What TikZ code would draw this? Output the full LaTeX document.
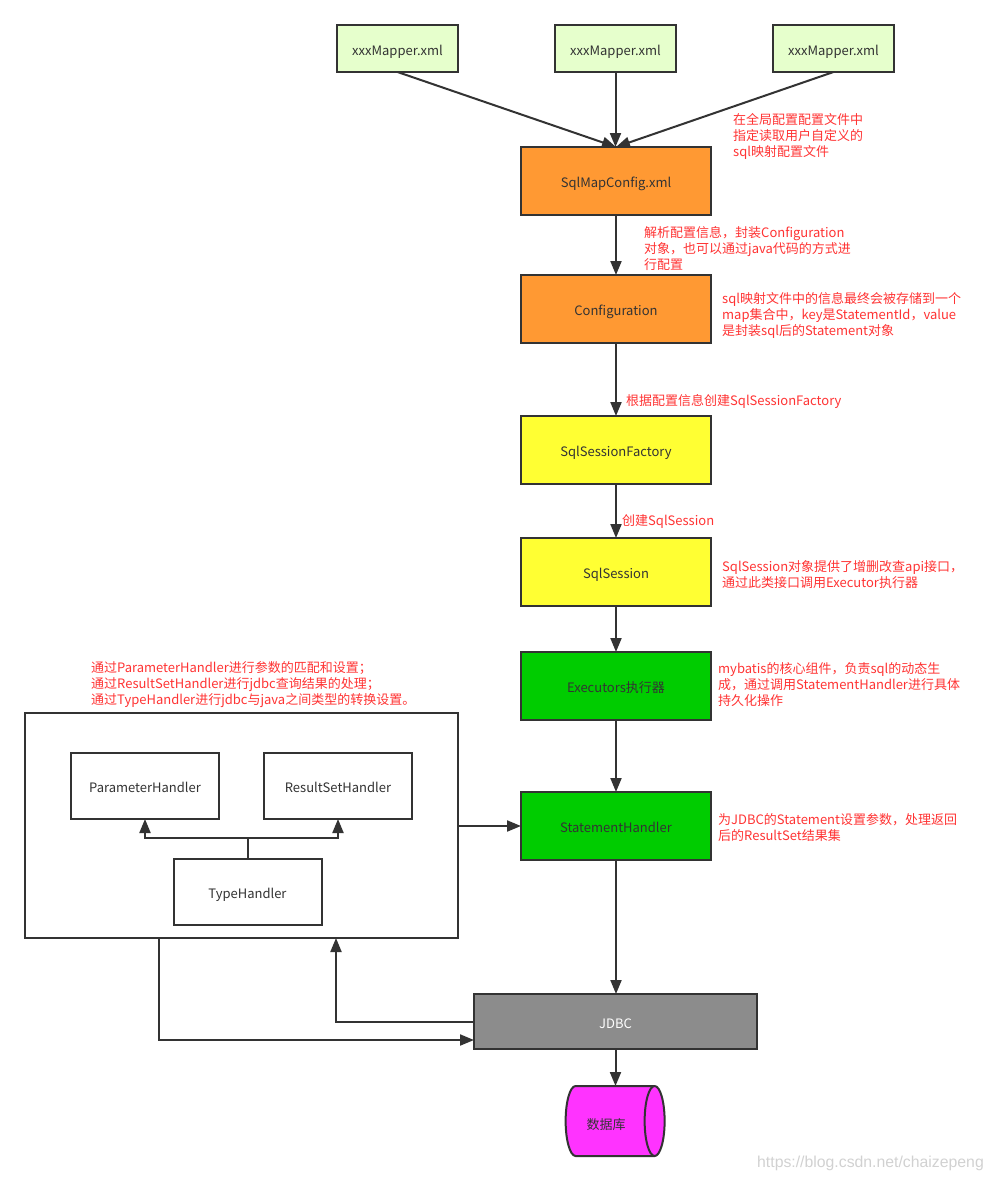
\documentclass[tikz,border=0pt]{standalone}
\usepackage{fontspec}
\setmainfont{Noto Sans CJK SC}
\newfontfamily\markfont{Liberation Sans}
\usetikzlibrary{shapes.geometric, arrows.meta, positioning}
\definecolor{mapgreen}{RGB}{230, 255, 204}
\definecolor{cfgorange}{RGB}{255, 153, 51}
\definecolor{sessyellow}{RGB}{255, 255, 51}
\definecolor{execgreen}{RGB}{0, 204, 0}
\definecolor{jdbcgray}{RGB}{140, 140, 140}
\definecolor{dbpink}{RGB}{255, 51, 255}
\definecolor{inkgray}{RGB}{51, 51, 51}
\definecolor{notered}{RGB}{255, 51, 51}
\tikzset{
    box/.style={draw=inkgray, line width=2pt, outer sep=0pt, text=inkgray, text height=13.5pt, text depth=0.5pt, minimum width=190pt, minimum height=68pt, font=\fontsize{13}{16}\selectfont},
    mapperbox/.style={box, fill=mapgreen, minimum width=121pt, minimum height=47pt},
    handlerbox/.style={box, fill=white, minimum width=148pt, minimum height=66pt},
    note/.style={text=notered, anchor=west, align=left, inner sep=0pt, yshift=-1.5pt, font=\fontsize{13}{16}\selectfont},
    flow/.style={draw=inkgray, line width=2pt, -{Triangle[length=14pt,width=11pt]}},
    link/.style={draw=inkgray, line width=2pt}
}

\begin{document}
\begin{tikzpicture}[x=1pt, y=-1pt]
    \useasboundingbox (0,0) rectangle (992,1181);

    \node[mapperbox] (mapperA) at (397.5,48.5) {xxxMapper.xml};
    \node[mapperbox] (mapperB) at (615.5,48.5) {xxxMapper.xml};
    \node[mapperbox] (mapperC) at (833.5,48.5) {xxxMapper.xml};

    \node[box, fill=cfgorange] (sqlmap) at (616,181) {SqlMapConfig.xml};
    \node[box, fill=cfgorange] (config) at (616,309) {Configuration};
    \node[box, fill=sessyellow] (factory) at (616,450) {SqlSessionFactory};
    \node[box, fill=sessyellow] (session) at (616,572) {SqlSession};
    \node[box, fill=execgreen] (executor) at (616,686) {Executors执行器};
    \node[box, fill=execgreen] (stmt) at (616,826) {StatementHandler};
    \node[box, fill=jdbcgray, text=white, minimum width=283pt, minimum height=55pt] (jdbc) at (615.5,1021.5) {JDBC};
    \node[draw=inkgray, line width=2pt, outer sep=0pt, fill=dbpink, cylinder, shape aspect=3, minimum width=70pt, minimum height=99pt] (db) at (607.5,1121) {};
    \node[text=inkgray, font=\fontsize{13}{16}\selectfont] (dblabel) at (606,1124.5) {数据库};

    \node[box, fill=white, minimum width=433pt, minimum height=225pt] (handlers) at (241.5,825.5) {};
    \node[handlerbox] (param) at (145,786) {ParameterHandler};
    \node[handlerbox] (result) at (338,786) {ResultSetHandler};
    \node[handlerbox] (type) at (247.5,892) {TypeHandler};

    \coordinate (split) at (247.5,838);
    \coordinate (handlersout) at (159,938);
    \coordinate (handlersin) at (336,938);
    \coordinate (jdbcin) at (474,1040);
    \coordinate (jdbcout) at (474,1022);

    \draw[flow] (mapperA.south) -- (sqlmap.north);
    \draw[flow] (mapperB.south) -- (mapperB.south |- sqlmap.north);
    \draw[flow] (mapperC.south) -- (sqlmap.north);
    \draw[flow] (sqlmap) -- (config);
    \draw[flow] (config) -- (factory);
    \draw[flow] (factory) -- (session);
    \draw[flow] (session) -- (executor);
    \draw[flow] (executor) -- (stmt);
    \draw[flow] (stmt.south) -- (stmt.south |- jdbc.north);
    \draw[flow] (jdbc.south) -- (jdbc.south |- db.north);
    \draw[flow] (handlers.east |- stmt.west) -- (stmt.west);
    \draw[link] (type.north) -- (split);
    \draw[flow] (split) -| (param.south);
    \draw[flow] (split) -| (result.south);
    \draw[flow] (handlersout) |- (jdbcin);
    \draw[flow] (jdbcout) -| (handlersin);

    \node[note] (noteA) at (733,135) {在全局配置配置文件中\\指定读取用户自定义的\\sql映射配置文件};
    \node[note] (noteB) at (644,247) {解析配置信息，封装Configuration\\对象，也可以通过java代码的方式进\\行配置};
    \node[note] (noteC) at (722,314) {sql映射文件中的信息最终会被存储到一个\\map集合中，key是StatementId，value\\是封装sql后的Statement对象};
    \node[note] (noteD) at (626,400) {根据配置信息创建SqlSessionFactory};
    \node[note] (noteE) at (622,520) {创建SqlSession};
    \node[note] (noteF) at (722,573) {SqlSession对象提供了增删改查api接口，\\通过此类接口调用Executor执行器};
    \node[note] (noteG) at (718,683) {mybatis的核心组件，负责sql的动态生\\成，通过调用StatementHandler进行具体\\持久化操作};
    \node[note] (noteH) at (718,826) {为JDBC的Statement设置参数，处理返回\\后的ResultSet结果集};
    \node[note] (noteI) at (91,683) {通过ParameterHandler进行参数的匹配和设置；\\通过ResultSetHandler进行jdbc查询结果的处理；\\通过TypeHandler进行jdbc与java之间类型的转换设置。};

    \node[text=black!18, anchor=east, inner sep=0pt, font=\fontsize{15.8}{18}\markfont] (mark) at (984,1163) {https://blog.csdn.net/chaizepeng};
\end{tikzpicture}
\end{document}
